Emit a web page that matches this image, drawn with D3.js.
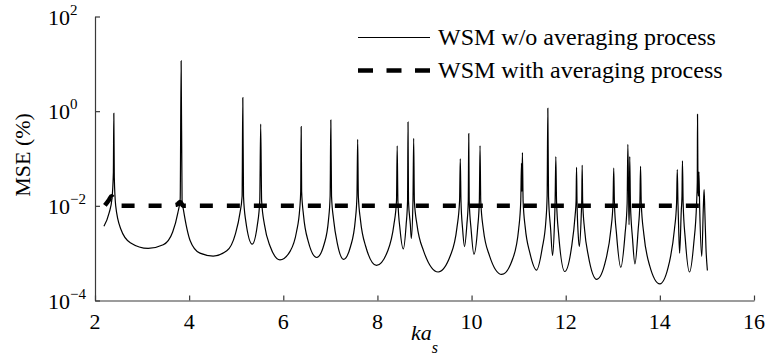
<!DOCTYPE html>
<html>
<head>
<meta charset="utf-8">
<script src="https://cdn.jsdelivr.net/npm/d3@7"></script>
<style>
body{margin:0;background:#fff}
svg{display:block}
</style>
</head>
<body>
<svg id="chart" width="766" height="358" font-family="Liberation Serif"></svg>
<script>
// solid curve: WSM w/o averaging process
var solidKa = [2.19,2.30,2.36,2.39,2.40,2.41,2.44,2.55,2.75,3.13,3.45,3.65,3.76,3.81,3.83,3.85,3.88,4.02,4.23,4.51,
	4.80,4.98,5.08,5.125,5.14,5.155,5.20,5.34,5.45,5.50,5.52,5.54,5.60,5.72,5.93,6.15,6.28,6.35,6.37,6.38,6.39,6.43,6.53,6.71,
	6.87,6.96,6.995,7.01,7.025,7.07,7.15,7.28,7.43,7.53,7.565,7.58,7.595,7.64,7.75,7.98,8.22,8.35,8.405,8.42,8.435,8.48,8.55,
	8.61,8.64,8.65,8.66,8.70,8.72,8.755,8.77,8.785,8.84,8.98,9.29,9.55,9.69,9.745,9.76,9.775,9.81,9.85,9.90,9.93,9.94,9.95,9.99,
	10.05,10.13,10.165,10.18,10.195,10.25,10.38,10.64,10.88,11.0,11.045,11.06,11.07,11.08,11.095,11.14,11.24,11.38,11.50,11.58,
	11.605,11.62,11.635,11.68,11.72,11.76,11.775,11.79,11.805,11.85,11.98,12.12,12.20,12.22,12.23,12.24,12.265,12.29,12.33,12.34,
	12.35,12.36,12.40,12.48,12.66,12.85,12.96,13.005,13.02,13.035,13.08,13.17,13.26,13.305,13.32,13.335,13.345,13.355,13.36,13.375,
	13.42,13.47,13.54,13.575,13.59,13.605,13.66,13.78,14.0,14.2,14.31,14.355,14.37,14.385,14.40,14.42,14.455,14.47,14.48,14.495,
	14.54,14.63,14.72,14.78,14.795,14.80,14.81,14.82,14.83,14.845,14.89,14.925,14.94,14.955,14.98,15.01]
var solidMse = [3.7e-3,7.1e-3,1.4e-2,5.0e-2,0.9,4.0e-2,1.0e-2,3.2e-3,1.66e-3,1.26e-3,1.5e-3,2.8e-3,7.1e-3,1.4e-2,11.5,1.26e-2,8.1e-3,1.86e-3,1.0e-3,8.7e-4,
	1.12e-3,2.5e-3,7.1e-3,1.6e-2,1.93,1.6e-2,5.0e-3,1.55e-3,4.0e-3,1.26e-2,0.53,1.26e-2,4.0e-3,1.4e-3,7.2e-4,1.12e-3,2.8e-3,8.9e-3,2.0e-2,0.47,2.0e-2,6.3e-3,1.78e-3,8.1e-4,
	1.58e-3,5.0e-3,1.6e-2,0.65,1.6e-2,5.0e-3,1.58e-3,7.4e-4,1.4e-3,5.0e-3,1.6e-2,0.255,1.6e-2,5.0e-3,1.4e-3,5.5e-4,1.12e-3,4.0e-3,1.26e-2,0.184,1.26e-2,3.2e-3,1.23e-3,
	4.0e-3,1.26e-2,0.59,1.26e-2,4.0e-3,2.04e-3,1.26e-2,0.267,1.26e-2,4.0e-3,1.12e-3,4.0e-4,8.9e-4,3.5e-3,1.26e-2,0.098,1.26e-2,3.2e-3,1.38e-3,4.0e-3,1.26e-2,0.334,1.26e-2,3.2e-3,
	9.5e-4,3.5e-3,1.26e-2,0.186,1.26e-2,3.2e-3,8.9e-4,3.55e-4,7.9e-4,3.2e-3,1.26e-2,0.079,2.0e-2,0.133,1.26e-2,3.5e-3,1.0e-3,4.4e-4,1.26e-3,5.0e-3,
	1.6e-2,1.15,1.6e-2,3.2e-3,8.9e-4,4.0e-3,1.26e-2,0.11,1.26e-2,2.5e-3,4.1e-4,1.26e-3,6.3e-3,1.26e-2,0.065,1.26e-2,2.5e-3,1.38e-3,6.3e-3,1.26e-2,
	0.072,1.26e-2,3.2e-3,8.9e-4,2.8e-4,7.1e-4,3.2e-3,1.12e-2,0.063,1.12e-2,2.5e-3,5.0e-4,2.5e-3,1.12e-2,0.20,2.0e-2,4.0e-3,1.6e-2,0.11,1.12e-2,
	2.0e-3,5.9e-4,3.2e-3,1.12e-2,0.068,1.12e-2,2.5e-3,5.6e-4,2.24e-4,6.3e-4,3.2e-3,1.12e-2,0.058,1.12e-2,3.2e-3,1.0e-3,7.9e-3,1.6e-2,0.089,1.12e-2,
	2.0e-3,4.0e-4,1.6e-3,1.12e-2,3.2e-2,0.86,2.5e-2,1.6e-2,0.052,1.0e-2,8.5e-4,1.0e-2,0.022,7.9e-3,1.26e-3,4.3e-4]

// dashed curve: WSM with averaging process
var dashedKa = [2.21,2.30,2.35,2.42,2.48,3.50,3.74,3.81,3.87,15.0]
var dashedMse = [0.0102,0.0135,0.0160,0.0125,0.0100,0.0100,0.0106,0.0120,0.0101,0.0100]

var xTicks = [2,4,6,8,10,12,14,16]
var yTickExp = [-4,-2,0,2]
var legendLabels = ['WSM w/o averaging process', 'WSM with averaging process']

function draw(){
	var svg = d3.select('svg#chart')
	var x = d3.scaleLinear()
		.domain([2, 16])
		.range([95, 754])
	var y = d3.scaleLog()
		.domain([1e-4, 1e2])
		.range([300.5, 16.5])

	var solid = solidKa.map(function(k, i){return {ka: k, mse: solidMse[i]}})
	var dashed = dashedKa.map(function(k, i){return {ka: k, mse: dashedMse[i]}})

	var line = d3.line()
		.x(function(d){return x(d.ka)})
		.y(function(d){return y(d.mse)})
		.curve(d3.curveMonotoneX)

	// axes, ticks pointing inward
	var xAxis = d3.axisBottom(x)
		.tickValues(xTicks)
		.tickSizeInner(-5)
		.tickSizeOuter(0)
		.tickFormat('')
	var yAxis = d3.axisLeft(y)
		.tickValues(yTickExp.map(function(e){return Math.pow(10, e)}))
		.tickSizeInner(-5)
		.tickSizeOuter(0)
		.tickFormat('')

	svg.append('g')
		.attr('transform', 'translate(0,' + y(1e-4) + ')')
		.call(xAxis)
	svg.append('g')
		.attr('transform', 'translate(' + x(2) + ',0)')
		.call(yAxis)
	svg.selectAll('.domain, .tick line')
		.style('stroke', '#3a3a3a')
		.style('stroke-width', '1.2')

	// x tick labels
	svg.selectAll('.xlab')
		.data(xTicks)
		.enter()
		.append('text')
		.attr('class', 'xlab')
		.attr('x', function(d){return x(d)})
		.attr('y', y(1e-4) + 28)
		.attr('text-anchor', 'middle')
		.attr('font-family', 'Liberation Serif')
		.attr('font-size', 22)
		.text(function(d){return d})

	// y tick labels 10^n
	var ylab = svg.selectAll('.ylab')
		.data(yTickExp)
		.enter()
		.append('text')
		.attr('class', 'ylab')
		.attr('x', 48)
		.attr('y', function(d){return y(Math.pow(10, d)) + 8})
		.attr('font-family', 'Liberation Serif')
		.attr('font-size', 22)
	ylab.append('tspan').text('10')
	ylab.append('tspan')
		.attr('dy', -10)
		.attr('font-size', 15)
		.text(function(d){return d < 0 ? '\u2212' + (-d) : d})

	// axis titles
	var xt = svg.append('text')
		.attr('x', 411)
		.attr('y', 340)
		.attr('font-family', 'Liberation Serif')
		.attr('font-size', 22)
		.attr('font-style', 'italic')
	xt.append('tspan').text('ka')
	xt.append('tspan')
		.attr('dy', 13)
		.attr('font-size', 16)
		.text('s')

	svg.append('text')
		.attr('transform', 'translate(30,155) rotate(-90)')
		.attr('text-anchor', 'middle')
		.attr('font-family', 'Liberation Serif')
		.attr('font-size', 22)
		.text('MSE (%)')

	// series
	svg.append('path')
		.attr('d', line(solid))
		.style('stroke', '#000')
		.style('stroke-width', '1.2')
		.style('fill', 'none')
	svg.append('path')
		.attr('d', line(dashed))
		.style('stroke', '#000')
		.style('stroke-width', '4.5')
		.style('stroke-dasharray', '13,14')
		.style('fill', 'none')

	// legend
	var leg = svg.selectAll('.leg')
		.data(legendLabels)
		.enter()
		.append('g')
		.attr('class', 'leg')
		.attr('transform', function(d, i){return 'translate(358,' + (37.5 + i * 33) + ')'})
	leg.append('line')
		.attr('x1', 0)
		.attr('x2', 72)
		.style('stroke', '#000')
		.style('stroke-width', function(d, i){return i ? 4.5 : 1.2})
		.style('stroke-dasharray', function(d, i){return i ? '15,13.5' : null})
	leg.append('text')
		.attr('x', 80)
		.attr('y', 7.5)
		.attr('font-family', 'Liberation Serif')
		.attr('font-size', 24)
		.text(function(d){return d})
}
draw()
</script>
</body>
</html>
